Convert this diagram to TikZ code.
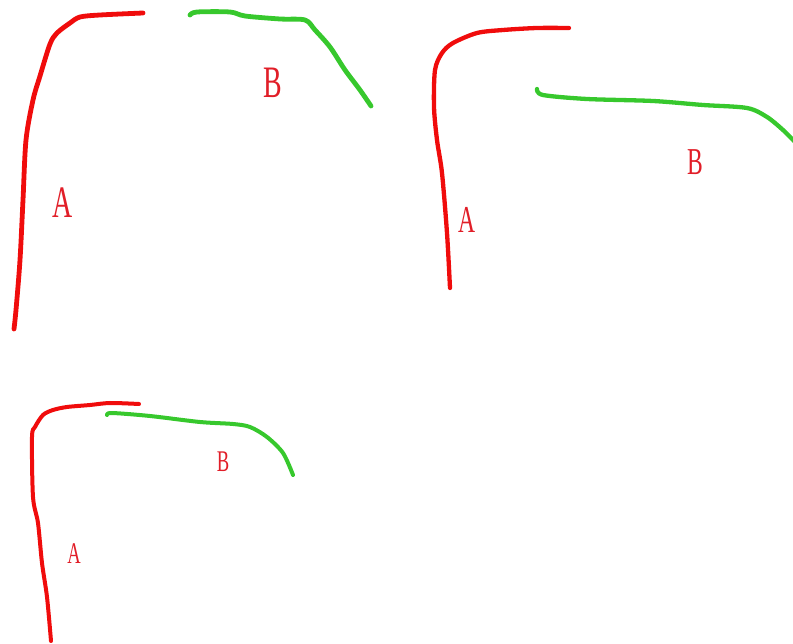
\documentclass[tikz,border=0pt]{standalone}
\usepackage{fontspec}
\setmainfont{Liberation Serif}
\definecolor{penred}{RGB}{240,12,12}
\definecolor{pengreen}{RGB}{55,200,45}
\definecolor{txtred}{RGB}{225,30,40}
\tikzset{
  redpen/.style={draw=penred, line width=#1, line cap=round, line join=round},
  greenpen/.style={draw=pengreen, line width=#1, line cap=round, line join=round},
  lbl/.style={text=txtred, inner sep=0pt, font=\fontsize{#1}{#1}\selectfont},
}
\newcommand{\narrow}[1]{\scalebox{0.62}[1]{#1}}
\begin{document}
\begin{tikzpicture}[x=1pt,y=-1pt]
\useasboundingbox (0,0) rectangle (793,644);
% panel 1
\draw[redpen=4.8pt] plot[smooth, tension=0.5] coordinates {(14,329) (16,310) (20,260) (23,200) (26,140) (33,100) (40,76) (50,44) (57,33) (70,23) (80,17) (100,15) (143,13)};
\draw[greenpen=4.8pt] plot[smooth, tension=0.5] coordinates {(190,15) (197,12) (230,12) (245,16) (280,19) (305,20) (315,30) (330,47) (345,70) (360,90) (371,106)};
\node[lbl=45] (A1) at (63,203) {\narrow{A}};
\node[lbl=45] (B1) at (273,83) {\narrow{B}};
% panel 2
\draw[redpen=4.3pt] plot[smooth, tension=0.5] coordinates {(450,288) (447,233) (442,173) (437,140) (434,107) (435,70) (442,53) (453,43) (477,33) (503,30) (537,28) (569,28)};
\draw[greenpen=4.3pt] plot[smooth, tension=0.5] coordinates {(537,89) (543,95) (587,99) (653,101) (703,105) (747,108) (767,117) (783,130) (794,141)};
\node[lbl=38] (A2) at (467,220) {\narrow{A}};
\node[lbl=38] (B2) at (695,162) {\narrow{B}};
% panel 3
\draw[redpen=4pt] plot[smooth, tension=0.5] coordinates {(51,641) (47,597) (42,563) (38,523) (33,497) (32,437) (35,427) (43,415) (53,410) (67,407) (90,405) (110,403) (139,404)};
\draw[greenpen=4pt] plot[smooth, tension=0.5] coordinates {(107,415) (112,413) (150,416) (200,422) (233,424) (250,427) (267,437) (283,453) (293,475)};
\node[lbl=30] (A3) at (74,554) {\narrow{A}};
\node[lbl=30] (B3) at (223,462) {\narrow{B}};
\end{tikzpicture}
\end{document}
